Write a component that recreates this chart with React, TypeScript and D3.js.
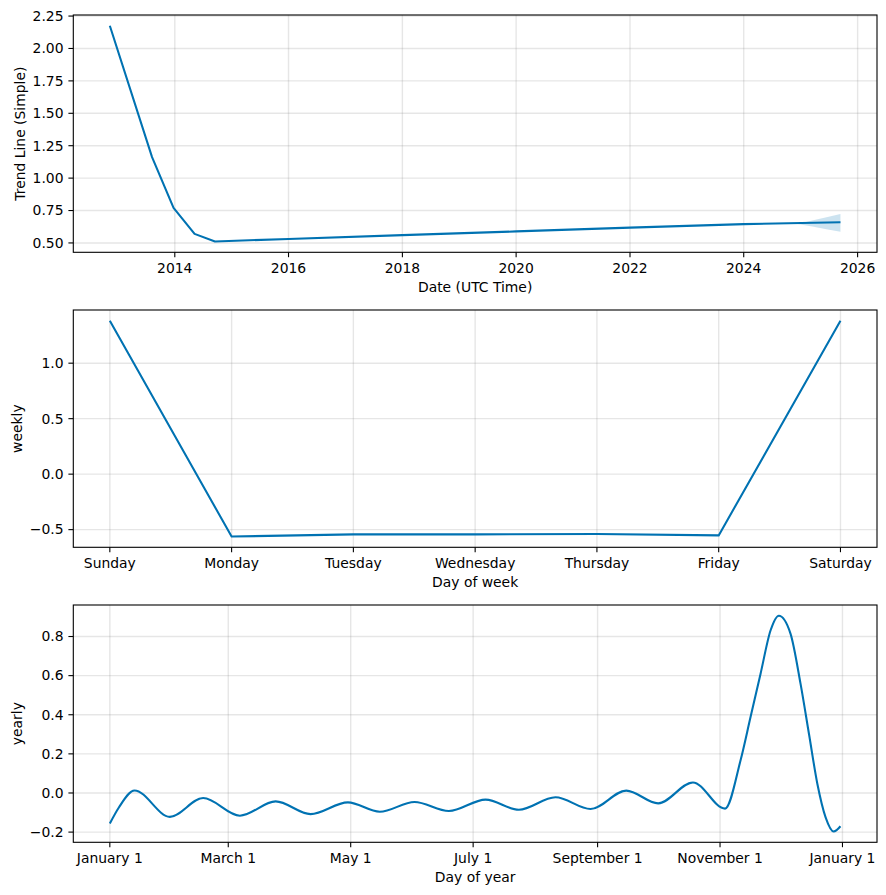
import React from 'react';
import * as d3 from 'd3';

// ---------- Data ----------
const trendDates = ['2012-11-10', '2013-08-08', '2013-12-24', '2014-05-08', '2014-09-16', '2016-01-01', '2018-01-01', '2020-01-01', '2022-01-01', '2024-01-01', '2025-09-13'];
const trendValues = [2.175, 1.162, 0.771, 0.57, 0.511, 0.531, 0.56, 0.589, 0.618, 0.645, 0.659];
const bandDates = ['2024-12-13', '2025-03-15', '2025-06-15', '2025-09-13'];
const bandLower = [0.647, 0.626, 0.606, 0.587];
const bandUpper = [0.647, 0.673, 0.699, 0.724];
const trendYTicks = [0.5, 0.75, 1.0, 1.25, 1.5, 1.75, 2.0, 2.25];
const trendXTicks = [2014, 2016, 2018, 2020, 2022, 2024, 2026];

const weekDays = ['Sunday', 'Monday', 'Tuesday', 'Wednesday', 'Thursday', 'Friday', 'Saturday'];
const weeklyValues = [1.382, -0.562, -0.543, -0.543, -0.54, -0.552, 1.382];
const weeklyYTicks = [-0.5, 0.0, 0.5, 1.0];

const yearDays = [0, 4.5, 12.3, 29.9, 46.5, 64.8, 82.6, 100, 118.6, 134.5, 151.8, 168.9, 187.2, 203.8, 222, 239.5, 257.3, 273.2, 290.5, 306.5, 314.2, 319.2, 324.2, 329.2, 333.3, 339.1, 344.1, 348.3, 352.5, 356.6, 360.6, 364];
const yearlyValues = [-0.156, -0.074, 0.013, -0.122, -0.026, -0.116, -0.043, -0.108, -0.048, -0.096, -0.046, -0.092, -0.034, -0.086, -0.022, -0.082, 0.012, -0.053, 0.054, -0.08, 0.166, 0.388, 0.61, 0.832, 0.906, 0.815, 0.559, 0.303, 0.046, -0.125, -0.197, -0.17];
const monthTickDays = [0, 59, 120, 181, 243, 304, 365];
const monthTickLabels = ['January 1', 'March 1', 'May 1', 'July 1', 'September 1', 'November 1', 'January 1'];
const yearlyYTicks = [-0.2, 0.0, 0.2, 0.4, 0.6, 0.8];

// ---------- Style ----------
const BLUE = '#0072B2';
const FONT = 'DejaVu Sans, sans-serif';
const FS = 13.9;
const LEFT = 73.3;
const RIGHT = 877;
const PANELS = [
  { top: 15, bottom: 252.3 },
  { top: 310, bottom: 547.3 },
  { top: 605, bottom: 842.3 },
];

const fmtMinus = (s: string) => s.replace('-', '\u2212');

function pad([a, b]: [number, number], f = 0.05): [number, number] {
  const r = b - a;
  return [a - r * f, b + r * f];
}

type PanelProps = {
  top: number;
  bottom: number;
  xTicks: { x: number; label: string }[];
  yTicks: { y: number; label: string }[];
  xLabel: string;
  yLabel: string;
  yLabelX: number;
  children: React.ReactNode;
};

function Panel({ top, bottom, xTicks, yTicks, xLabel, yLabel, yLabelX, children }: PanelProps) {
  const clipId = 'clip' + Math.round(top);
  return (
    <g>
      <defs>
        <clipPath id={clipId}>
          <rect x={LEFT} y={top} width={RIGHT - LEFT} height={bottom - top} />
        </clipPath>
      </defs>
      {/* grid */}
      {xTicks.map((t, i) => (
        <line key={'gx' + i} x1={t.x} x2={t.x} y1={top} y2={bottom} stroke="gray" strokeOpacity={0.2} strokeWidth={1.4} />
      ))}
      {yTicks.map((t, i) => (
        <line key={'gy' + i} x1={LEFT} x2={RIGHT} y1={t.y} y2={t.y} stroke="gray" strokeOpacity={0.2} strokeWidth={1.4} />
      ))}
      <g clipPath={`url(#${clipId})`}>{children}</g>
      {/* spines */}
      <rect x={LEFT} y={top} width={RIGHT - LEFT} height={bottom - top} fill="none" stroke="black" strokeWidth={1.1} />
      {/* x ticks */}
      {xTicks.map((t, i) => (
        <g key={'xt' + i}>
          <line x1={t.x} x2={t.x} y1={bottom} y2={bottom + 4.9} stroke="black" strokeWidth={1.1} />
          <text x={t.x} y={bottom + 9.8} dy="0.76em" textAnchor="middle" fontSize={FS} fontFamily={FONT} fill="black">
            {t.label}
          </text>
        </g>
      ))}
      {/* y ticks */}
      {yTicks.map((t, i) => (
        <g key={'yt' + i}>
          <line x1={LEFT - 4.9} x2={LEFT} y1={t.y} y2={t.y} stroke="black" strokeWidth={1.1} />
          <text x={LEFT - 9.8} y={t.y} dy="0.35em" textAnchor="end" fontSize={FS} fontFamily={FONT} fill="black">
            {t.label}
          </text>
        </g>
      ))}
      <text x={(LEFT + RIGHT) / 2} y={bottom + 40} textAnchor="middle" fontSize={FS} fontFamily={FONT} fill="black">
        {xLabel}
      </text>
      <text
        transform={`translate(${yLabelX},${(top + bottom) / 2}) rotate(-90)`}
        textAnchor="middle"
        dy="0.35em"
        fontSize={FS}
        fontFamily={FONT}
        fill="black"
      >
        {yLabel}
      </text>
    </g>
  );
}

export default function App() {
  // ----- Trend panel -----
  const parse = d3.utcParse('%Y-%m-%d');
  const tDates = trendDates.map((d) => parse(d) as Date);
  const bDates = bandDates.map((d) => parse(d) as Date);
  const tExt = d3.extent(tDates.map((d) => +d)) as [number, number];
  const tx = d3.scaleUtc().domain(pad(tExt).map((v) => new Date(v))).range([LEFT, RIGHT]);
  const tyExt = d3.extent([...trendValues, ...bandLower, ...bandUpper]) as [number, number];
  const ty = d3.scaleLinear().domain(pad(tyExt)).range([PANELS[0].bottom, PANELS[0].top]);
  const trendLine = d3
    .line<number>()
    .x((_, i) => tx(tDates[i]))
    .y((v) => ty(v))(trendValues) as string;
  const bandArea = d3
    .area<number>()
    .x((_, i) => tx(bDates[i]))
    .y0((_, i) => ty(bandLower[i]))
    .y1((_, i) => ty(bandUpper[i]))(bandLower) as string;

  // ----- Weekly panel -----
  const wx = d3.scaleLinear().domain(pad([0, weekDays.length - 1])).range([LEFT, RIGHT]);
  const wy = d3.scaleLinear().domain(pad(d3.extent(weeklyValues) as [number, number])).range([PANELS[1].bottom, PANELS[1].top]);
  const weeklyLine = d3
    .line<number>()
    .x((_, i) => wx(i))
    .y((v) => wy(v))(weeklyValues) as string;

  // ----- Yearly panel -----
  const yx = d3.scaleLinear().domain(pad([yearDays[0], yearDays[yearDays.length - 1]])).range([LEFT, RIGHT]);
  const yy = d3.scaleLinear().domain(pad(d3.extent(yearlyValues) as [number, number])).range([PANELS[2].bottom, PANELS[2].top]);
  const yearlyLine = d3
    .line<number>()
    .x((_, i) => yx(yearDays[i]))
    .y((v) => yy(v))
    .curve(d3.curveMonotoneX)(yearlyValues) as string;

  return (
    <div style={{ position: 'absolute', left: 0, top: 0 }}>
      <svg width={886} height={895} style={{ display: 'block', background: 'white' }}>
        <Panel
          top={PANELS[0].top}
          bottom={PANELS[0].bottom}
          xTicks={trendXTicks.map((y) => ({ x: tx(Date.UTC(y, 0, 1)), label: String(y) }))}
          yTicks={trendYTicks.map((v) => ({ y: ty(v), label: v.toFixed(2) }))}
          xLabel="Date (UTC Time)"
          yLabel="Trend Line (Simple)"
          yLabelX={20.5}
        >
          <path d={bandArea} fill={BLUE} fillOpacity={0.2} stroke="none" />
          <path d={trendLine} fill="none" stroke={BLUE} strokeWidth={2.08} strokeLinejoin="round" strokeLinecap="butt" />
        </Panel>
        <Panel
          top={PANELS[1].top}
          bottom={PANELS[1].bottom}
          xTicks={weekDays.map((d, i) => ({ x: wx(i), label: d }))}
          yTicks={weeklyYTicks.map((v) => ({ y: wy(v), label: fmtMinus(v.toFixed(1)) }))}
          xLabel="Day of week"
          yLabel="weekly"
          yLabelX={17}
        >
          <path d={weeklyLine} fill="none" stroke={BLUE} strokeWidth={2.08} strokeLinejoin="round" />
        </Panel>
        <Panel
          top={PANELS[2].top}
          bottom={PANELS[2].bottom}
          xTicks={monthTickDays.map((d, i) => ({ x: yx(d), label: monthTickLabels[i] }))}
          yTicks={yearlyYTicks.map((v) => ({ y: yy(v), label: fmtMinus(v.toFixed(1)) }))}
          xLabel="Day of year"
          yLabel="yearly"
          yLabelX={17}
        >
          <path d={yearlyLine} fill="none" stroke={BLUE} strokeWidth={2.08} strokeLinejoin="round" />
        </Panel>
      </svg>
    </div>
  );
}
